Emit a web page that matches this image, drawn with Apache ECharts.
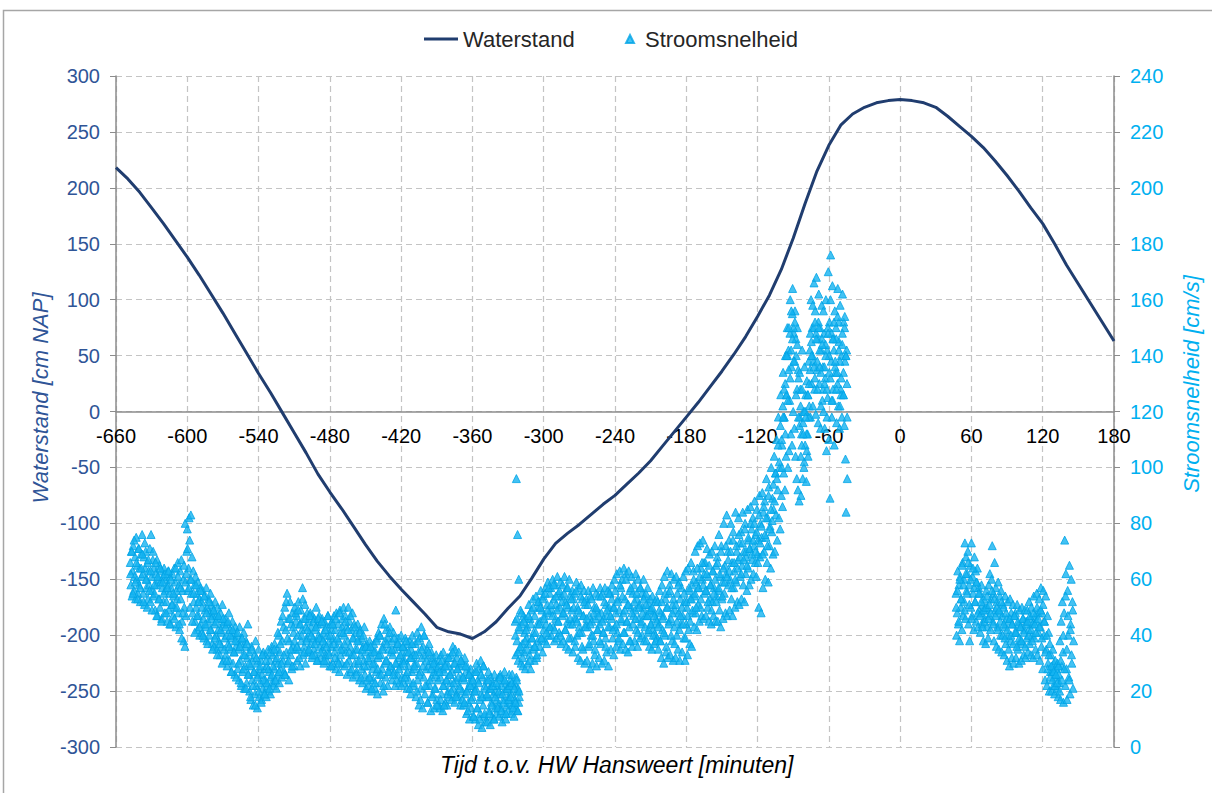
<!DOCTYPE html>
<html>
<head>
<meta charset="utf-8">
<script src="https://cdn.jsdelivr.net/npm/echarts@6/dist/echarts.min.js"></script>
<style>
html, body { margin: 0; padding: 0; background: #ffffff; }
#chart { width: 1212px; height: 793px; }
</style>
</head>
<body>
<div id="chart"></div>
<script>
// Water level (cm NAP) every 10 minutes relative to high water at Hansweert
const waterTime = [-660,-650,-640,-630,-620,-610,-600,-590,-580,-570,-560,-550,-540,-530,-520,-510,-500,-490,-480,-470,
  -460,-450,-440,-430,-420,-410,-400,-390,-380,-370,-360,-350,-340,-330,-320,-310,-300,-290,-280,-270,
  -260,-250,-240,-230,-220,-210,-200,-190,-180,-170,-160,-150,-140,-130,-120,-110,-100,-90,-80,-70,
  -60,-50,-40,-30,-20,-10,0,10,20,30,40,50,60,70,80,90,100,110,120,130,140,150,160,170,180];
const waterLevel = [218,208,196,182,168,153,138,122,105,88,70,52,34,17,-1,-19,-37,-56,-72,-87,
  -103,-119,-134,-147,-159,-170,-181,-193,-197,-199,-203,-197,-188,-176,-165,-149,-132,-118,-109,-101,
  -92,-83,-75,-65,-55,-44,-31,-18,-5,8,22,36,51,67,85,104,127,155,186,215,
  238,256,266,272,276,278,279,278,276,272,264,255,246,236,224,211,197,182,168,150,131,114,97,80,63];

// Current speed (cm/s) from three measurement runs.
// Each run has a half-minute record and an interleaved one-minute record.
const fineStep = 0.5;
const coarseStep = 1;

const speedRun1Start = -648;
const speedRun1 = [
  66,58,70,54,63,72,56,61,68,53,75,60,65,55,71,58,64,52,69,61,
  76,62,55,68,51,64,70,57,60,66,53,63,58,71,52,76,61,56,67,54,
  64,55,49,62,58,67,47,60,53,65,50,59,63,46,57,61,52,64,48,56,
  60,52,45,58,63,49,55,61,44,57,51,62,47,54,64,50,59,43,56,53,
  66,48,58,42,63,53,67,45,56,60,38,50,36,59,47,70,78,56,64,82,
  74,60,83,55,68,48,63,52,58,45,61,50,55,42,59,47,53,40,57,44,
  52,41,56,46,39,54,49,43,57,38,50,45,53,40,48,55,42,51,37,47,
  49,36,44,52,40,47,35,50,42,38,46,33,48,41,36,51,44,31,45,39,
  46,33,40,29,44,37,48,31,42,35,27,39,45,30,41,34,26,43,36,38,
  40,28,35,24,43,31,37,22,39,27,33,41,21,36,29,38,23,32,44,26,
  34,20,29,17,36,24,31,15,27,33,19,38,22,30,14,26,35,18,28,23,
  31,17,26,21,34,19,28,24,33,18,29,22,35,20,27,31,19,25,36,23,
  33,22,28,37,24,31,21,35,26,30,40,23,34,28,45,25,38,31,43,27,
  50,26,42,34,55,30,46,24,38,52,33,44,28,48,36,41,29,50,35,45,
  47,31,40,52,35,44,29,49,38,42,57,33,46,36,51,30,43,39,48,34,
  45,34,41,48,37,43,32,47,39,35,46,33,42,50,38,44,31,40,47,36,
  44,32,39,46,35,41,30,45,37,33,43,31,40,47,34,38,29,44,36,42,
  45,30,39,47,34,42,28,48,36,31,44,38,27,49,33,41,30,46,35,50,
  40,29,47,34,43,26,38,50,31,45,36,27,42,33,48,25,39,44,30,35,
  41,27,35,44,30,38,24,42,33,28,39,23,36,31,43,26,34,21,37,29,
  36,22,31,38,25,33,20,35,28,24,37,30,21,34,27,39,19,32,41,26,
  40,23,33,44,28,36,20,46,30,38,25,42,31,22,39,35,27,43,29,34,
  38,24,33,41,27,35,22,49,30,37,26,39,32,23,36,29,40,25,34,31,
  36,23,31,39,26,34,21,37,29,24,38,32,19,35,27,40,22,33,28,30,
  37,18,30,41,24,34,15,39,27,21,43,32,14,36,25,40,19,33,28,22,
  35,16,29,37,22,31,13,34,25,19,32,27,14,30,21,33,17,28,24,15,
  31,14,25,33,19,28,13,34,22,27,16,30,24,15,32,20,29,18,26,23,
  33,17,27,36,21,30,16,35,24,19,32,28,18,34,22,29,15,31,25,20,
  30,15,24,32,19,27,12,29,21,16,26,10,23,28,14,25,18,11,22,20,
  27,10,21,30,14,24,8,28,17,12,31,19,7,25,15,29,11,22,9,18,
  24,9,18,27,13,21,8,25,16,11,23,19,10,26,14,20,12,17,22,15,
  25,11,19,26,14,22,9,24,17,12,27,20,10,23,15,21,13,18,26,16,
  24,12,19,26,15,22,11,23,17,14,25,20,13,21,16,18
];
const speedRun1bStart = -647.75;
const speedRun1b = [
  62,70,55,74,59,66,53,71,57,64,69,52,73,60,50,67,56,63,49,70,
  58,66,47,61,53,64,45,59,55,62,48,57,63,44,60,51,55,46,64,50,
  61,44,57,39,48,65,80,62,71,57,50,60,45,55,41,58,47,52,43,56,
  50,40,54,44,48,37,52,42,46,35,49,39,45,33,47,37,42,30,46,35,
  43,31,45,36,40,27,42,34,38,25,41,30,36,23,39,28,33,21,37,26,
  30,18,35,22,27,15,32,25,20,29,16,33,24,19,31,23,28,21,34,26,
  29,35,24,32,41,27,37,30,47,33,26,52,39,31,46,35,29,43,38,48,
  36,49,32,44,40,53,34,46,38,42,35,47,40,33,45,37,43,31,46,39,
  34,45,38,31,42,36,47,33,40,29,44,37,32,46,39,30,48,35,43,41,
  37,45,30,42,34,47,28,39,33,43,26,38,31,41,25,35,40,29,36,24,
  32,25,36,21,30,34,23,38,28,33,40,26,35,22,44,31,37,27,41,29,
  35,26,39,30,24,37,28,33,22,36,30,25,38,27,34,21,32,37,23,29,
  33,20,38,26,17,35,29,40,22,31,16,34,24,28,18,30,21,26,15,29,
  27,17,31,22,15,29,24,19,32,26,20,34,23,30,18,28,25,21,31,17,
  25,16,29,20,13,26,22,17,24,11,20,27,14,23,10,26,18,29,12,21,
  19,24,12,21,15,22,10,18,23,14,20,25,13,19,16,24,12,21,17,22,
  18,23,14,21,16,24,13,20
];

const speedRun2Start = -324;
const speedRun2 = [
  45,33,96,38,76,31,60,42,35,49,30,44,37,29,47,34,41,28,46,39,
  43,30,37,51,33,46,28,49,39,35,53,41,31,47,36,54,32,44,38,50,
  52,36,45,56,39,49,34,54,42,47,38,57,44,37,51,59,40,48,55,43,
  57,40,49,60,43,53,38,58,46,51,39,61,45,55,41,50,59,37,54,47,
  58,38,48,61,42,52,36,57,45,50,35,60,44,54,39,49,56,34,53,46,
  55,36,46,59,40,50,32,57,43,48,31,58,41,53,35,47,56,30,51,44,
  53,31,43,56,36,47,28,54,40,45,30,57,38,50,33,46,55,29,49,42,
  54,32,44,57,37,48,30,55,41,46,31,57,39,51,34,47,56,29,50,43,
  55,35,46,58,39,50,33,60,43,48,36,62,41,53,38,49,63,35,57,45,
  60,37,48,64,41,53,35,62,45,51,34,63,43,56,38,50,61,36,55,47,
  58,38,49,62,42,53,36,60,46,51,39,57,44,55,40,50,60,38,54,47,
  55,38,47,57,41,51,36,53,44,49,35,54,42,48,37,52,40,46,53,39,
  52,35,44,56,38,48,32,58,42,47,30,61,40,53,34,50,63,32,55,45,
  58,33,46,62,38,51,31,60,43,49,32,61,40,55,35,48,59,31,53,44,
  57,34,47,61,39,52,31,63,44,50,33,64,42,56,37,53,66,36,58,48,
  63,43,54,70,48,59,42,72,51,57,45,73,50,64,47,60,74,46,66,55,
  66,47,56,71,50,61,45,69,53,58,44,70,52,63,47,57,72,45,65,54,
  68,45,56,76,49,61,43,72,53,59,46,80,55,65,48,62,83,47,70,58,
  74,49,60,80,53,66,47,77,57,63,50,84,59,70,52,67,82,51,73,61,
  77,53,65,84,58,70,52,80,62,68,56,85,64,74,58,71,86,60,78,67,
  82,62,72,88,66,76,61,85,69,74,50,90,68,80,48,75,91,57,84,70,
  88,60,75,96,66,82,59,93,72,79,64,100,77,89,69,85,104,70,98,83,
  110,74,92,118,82,100,78,126,90,108,86,134,98,118,92,140,104,126,150,100,
  142,106,124,160,112,136,108,164,120,148,114,156,104,140,96,150,92,132,88,118,
  128,90,112,142,96,120,100,136,108,126,95,131,112,104,138,122,142,118,160,130,
  150,122,138,166,128,156,119,168,135,146,116,162,130,150,114,142,158,124,136,120,
  148,114,132,160,106,142,125,170,110,152,89,176,138,118,165,128,146,108,156,134,
  150,116,134,164,122,145,114,158,128,140,118,162,126,152,115,138,103,84,142,96
];
const speedRun2bStart = -323.75;
const speedRun2b = [
  40,46,34,43,36,48,32,45,38,42,35,47,31,44,39,50,36,41,33,52,
  44,50,39,53,46,55,41,49,57,43,51,47,58,42,54,49,45,56,40,52,
  48,55,42,51,57,39,46,53,44,50,38,56,45,49,41,54,36,47,52,43,
  46,51,37,44,53,40,48,35,50,42,47,38,54,45,41,52,36,49,43,55,
  47,53,42,50,56,44,52,39,58,46,54,41,49,60,45,51,38,57,48,44,
  52,46,55,41,50,57,45,48,53,43,51,47,42,49,44,50,40,47,38,45,
  43,49,38,52,46,41,55,36,50,44,56,40,48,53,37,51,45,58,42,47,
  50,44,55,39,52,47,57,45,53,49,60,55,50,64,57,61,53,66,58,62,
  56,62,52,65,58,49,63,55,60,52,66,57,62,70,54,64,59,72,61,67,
  63,70,57,74,66,60,72,64,76,68,62,73,67,78,70,65,75,71,80,69,
  74,80,70,77,66,83,73,79,69,86,76,82,72,90,78,85,81,94,88,98,
  96,108,102,115,110,122,118,130,126,140,135,148,142,155,150,138,146,128,135,115,
  122,108,116,102,120,112,126,118,135,145,140,150,132,148,138,152,142,134,146,128,
  136,144,128,150,140,132,148,124,142,136,146,130,152,138,126,144,134,150,140,130
];
// Extra one-minute record over the strong flood peak
const speedRun2cStart = -99.6;
const speedRun2c = [
  100,118,128,112,140,124,150,132,156,146,
  138,152,126,144,118,134,104,128,112,120,
  118,106,126,130,148,140,158,136,152,146,
  128,150,136,122,144,156,130,140,118,148,
  134,160,124,146,152,138,128,154,142,122,
  132,148,126,154,140,118
];

const speedRun3Start = 47;
const speedRun3 = [
  55,40,48,63,44,58,38,61,50,53,42,66,47,60,52,73,46,68,56,62,
  70,44,58,38,65,50,73,47,61,55,42,68,52,63,45,59,64,43,57,49,
  55,41,48,58,44,51,38,53,46,49,37,56,43,50,39,58,47,62,42,53,
  60,72,45,55,38,66,49,57,36,52,43,59,35,48,54,40,56,34,47,51,
  50,33,43,54,37,46,31,52,40,45,29,53,38,48,32,44,51,30,47,41,
  48,32,41,51,35,44,30,49,38,43,31,50,37,46,33,42,49,32,45,39,
  49,34,42,52,37,46,33,50,40,44,32,54,39,47,35,45,55,33,48,41,
  53,31,43,57,36,48,28,56,40,45,24,54,35,22,47,30,41,20,37,27,
  33,20,27,35,22,30,19,31,25,28,21,30,18,26,23,38,17,45,29,52,
  34,16,48,74,22,62,28,17,56,40,25,65,19,44,60,30,52,21,38
];
const speedRun3bStart = 47.25;
const speedRun3b = [
  50,56,45,60,53,65,58,49,62,55,66,51,60,46,64,57,52,59,48,55,
  47,52,43,49,45,50,54,46,51,48,56,44,53,47,50,42,49,45,52,40,
  44,39,48,42,35,46,40,44,37,47,41,36,45,39,43,38,46,41,36,44,
  45,40,47,42,38,48,44,41,50,46,43,49,39,51,45,34,40,28,33,25,
  29,24,27,22,26,23,29,20,31,24,40,28,54,35,47,24,42,33,49
];

// X-axis tick range (minutes)
const timeMin = -660, timeMax = 180, timeInterval = 60;

const FONT = '"Liberation Sans", Arial, sans-serif';
const LEVEL_BLUE = '#2F5597';
const SPEED_CYAN = '#00B0F0';
const LINE_NAVY = '#203D6F';

function pairs(values, start, step) {
  return values.map((v, i) => [start + i * step, v]);
}
const speedData = []
  .concat(pairs(speedRun1, speedRun1Start, fineStep))
  .concat(pairs(speedRun1b, speedRun1bStart, coarseStep))
  .concat(pairs(speedRun2, speedRun2Start, fineStep))
  .concat(pairs(speedRun2b, speedRun2bStart, coarseStep))
  .concat(pairs(speedRun2c, speedRun2cStart, coarseStep))
  .concat(pairs(speedRun3, speedRun3Start, fineStep))
  .concat(pairs(speedRun3b, speedRun3bStart, coarseStep));
const waterData = waterTime.map((t, i) => [t, waterLevel[i]]);

const chart = echarts.init(document.getElementById('chart'), null, { renderer: 'svg' });

// Plot area: 116..1114 horizontally, 76..747 vertically; the time axis sits on level 0
const gridTop = 76, gridBottom = 46, plotHeight = 793 - gridTop - gridBottom;

chart.setOption({
  animation: false,
  backgroundColor: '#ffffff',
  textStyle: { fontFamily: FONT },
  grid: { left: 116, right: 98, top: gridTop, bottom: gridBottom, containLabel: false },
  legend: [
    {
      data: ['Waterstand'], left: 424, top: 28, padding: 0, icon: 'rect',
      itemWidth: 34, itemHeight: 3,
      textStyle: { fontSize: 22, color: '#262626', fontFamily: FONT }
    },
    {
      data: ['Stroomsnelheid'], left: 625, top: 28, padding: 0, icon: 'triangle',
      itemWidth: 8, itemHeight: 8,
      textStyle: { fontSize: 22, color: '#262626', fontFamily: FONT, padding: [0, 0, 0, 6] }
    }
  ],
  xAxis: {
    type: 'value', min: timeMin, max: timeMax, interval: timeInterval,
    position: 'bottom', offset: -plotHeight / 2,
    axisLine: { onZero: false, lineStyle: { color: '#8c8c8c', width: 1.5 } },
    axisTick: { show: false },
    axisLabel: { color: '#000000', fontSize: 20, margin: 14, showMinLabel: true, showMaxLabel: true, fontFamily: FONT },
    splitLine: { show: true, lineStyle: { color: '#c4c4c4', type: [6, 4], width: 1.2 } }
  },
  yAxis: [
    {
      type: 'value', min: -300, max: 300, interval: 50, position: 'left',
      axisLine: { show: true, onZero: false, lineStyle: { color: '#8c8c8c', width: 1.5 } },
      axisTick: { show: true, length: 6, lineStyle: { color: '#8c8c8c' } },
      axisLabel: { color: LEVEL_BLUE, fontSize: 20, margin: 16, fontFamily: FONT },
      splitLine: { show: true, lineStyle: { color: '#c4c4c4', type: [6, 4], width: 1.2 } }
    },
    {
      type: 'value', min: 0, max: 240, interval: 20, position: 'right',
      axisLine: { show: true, onZero: false, lineStyle: { color: '#8c8c8c', width: 1.5 } },
      axisTick: { show: true, length: 6, lineStyle: { color: '#8c8c8c' } },
      axisLabel: { color: SPEED_CYAN, fontSize: 20, margin: 16, fontFamily: FONT },
      splitLine: { show: false }
    }
  ],
  series: [
    {
      name: 'Waterstand', type: 'line', yAxisIndex: 0, data: waterData,
      showSymbol: false, symbol: 'none', smooth: false,
      lineStyle: { color: LINE_NAVY, width: 3 },
      itemStyle: { color: LINE_NAVY },
      z: 2
    },
    {
      name: 'Stroomsnelheid', type: 'scatter', yAxisIndex: 1, data: speedData,
      symbol: 'triangle', symbolSize: 8,
      itemStyle: { color: '#14b3f0', borderColor: '#00a4e6', borderWidth: 1 },
      z: 3
    }
  ],
  graphic: [
    {
      type: 'rect', silent: true, z: -1,
      shape: { x: 3.5, y: 10.5, width: 1230, height: 800 },
      style: { fill: 'none', stroke: '#a6a6a6', lineWidth: 1.5 }
    },
    {
      type: 'text', left: 440, top: 753, silent: true,
      style: {
        text: 'Tijd t.o.v. HW Hansweert [minuten]',
        fill: '#000000', font: 'italic 23px "Liberation Sans", Arial, sans-serif'
      }
    },
    {
      type: 'text', x: 40, y: 398, rotation: Math.PI / 2, silent: true,
      style: {
        text: 'Waterstand [cm NAP]', align: 'center', verticalAlign: 'middle',
        fill: LEVEL_BLUE, font: 'italic 22px "Liberation Sans", Arial, sans-serif'
      }
    },
    {
      type: 'text', x: 1191, y: 384, rotation: Math.PI / 2, silent: true,
      style: {
        text: 'Stroomsnelheid [cm/s]', align: 'center', verticalAlign: 'middle',
        fill: SPEED_CYAN, font: 'italic 22px "Liberation Sans", Arial, sans-serif'
      }
    }
  ]
});
</script>
</body>
</html>
